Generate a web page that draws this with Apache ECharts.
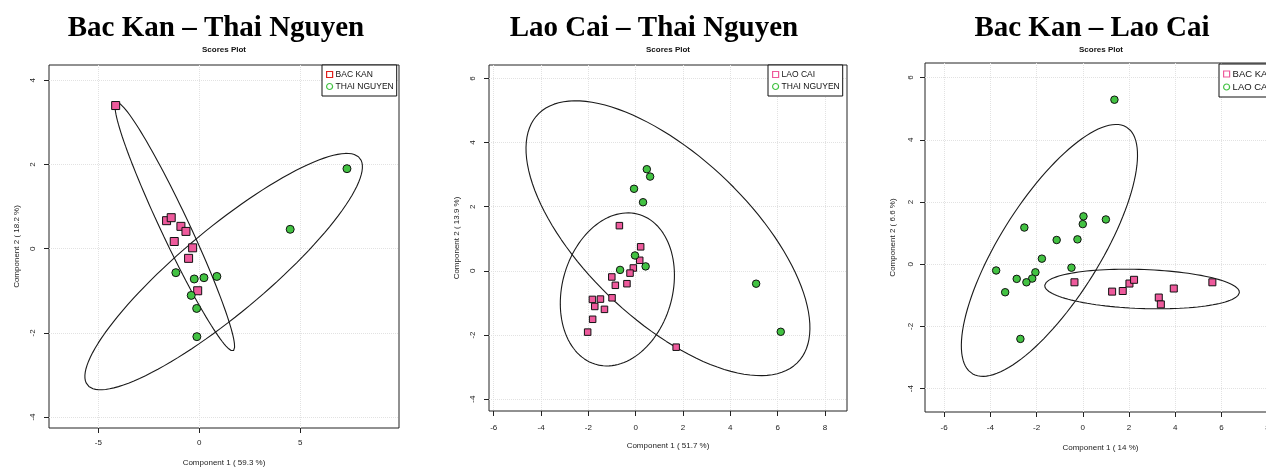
<!DOCTYPE html>
<html><head><meta charset="utf-8">
<script src="https://cdn.jsdelivr.net/npm/echarts@6/dist/echarts.min.js"></script>
<style>html,body{margin:0;padding:0;background:#fff}#c{width:1266px;height:467px}</style>
</head><body><div id="c"></div>
<script>
// ---------- data ----------
// Panel 1: Bac Kan – Thai Nguyen
const p1BacKanX = [-4.14, -1.62, -1.39, -0.91, -0.66, -1.24, -0.33, -0.53, -0.08];
const p1BacKanY = [3.40, 0.665, 0.736, 0.53, 0.41, 0.17, 0.02, -0.23, -1.00];
const p1ThaiX = [7.31, 4.50, -1.16, -0.25, 0.23, 0.87, -0.40, -0.13, -0.12];
const p1ThaiY = [1.90, 0.46, -0.57, -0.72, -0.69, -0.66, -1.11, -1.42, -2.09];
// Panel 2: Lao Cai – Thai Nguyen
const p2LaoCaiX = [-0.69, 0.21, 0.17, -0.10, -0.24, -0.37, -1.01, -0.86, -1.00, -1.49, -1.83, -1.73, -1.32, -1.82, -2.03, 1.71];
const p2LaoCaiY = [1.41, 0.75, 0.33, 0.09, -0.07, -0.40, -0.19, -0.45, -0.84, -0.88, -0.89, -1.11, -1.20, -1.51, -1.91, -2.38];
const p2ThaiX = [0.47, 0.61, -0.07, 0.31, -0.03, -0.66, 0.42, 5.09, 6.13];
const p2ThaiY = [3.17, 2.94, 2.56, 2.14, 0.48, 0.03, 0.14, -0.40, -1.90];
// Panel 3: Bac Kan – Lao Cai
const p3BacKanX = [-0.36, 1.27, 1.73, 2.02, 2.22, 3.29, 3.38, 3.94, 5.61];
const p3BacKanY = [-0.58, -0.88, -0.86, -0.62, -0.50, -1.07, -1.29, -0.78, -0.58];
const p3LaoCaiX = [1.37, 0.03, 0.00, 1.00, -2.53, -1.13, -0.23, -1.77, -0.49, -3.75, -2.05, -2.86, -2.19, -2.44, -3.36, -2.70];
const p3LaoCaiY = [5.29, 1.54, 1.29, 1.44, 1.18, 0.78, 0.80, 0.18, -0.11, -0.20, -0.26, -0.47, -0.46, -0.58, -0.90, -2.40];

const titles = ['Bac Kan – Thai Nguyen', 'Lao Cai – Thai Nguyen', 'Bac Kan – Lao Cai'];
const subTitle = 'Scores Plot';
const xNames = ['Component 1 ( 59.3 %)', 'Component 1 ( 51.7 %)', 'Component 1 ( 14 %)'];
const yNames = ['Component 2 ( 18.2 %)', 'Component 2 ( 13.9 %)', 'Component 2 ( 6.6 %)'];
const p1XTicks = [-5, 0, 5];
const p1YTicks = [-4, -2, 0, 2, 4];
const p2XTicks = [-6, -4, -2, 0, 2, 4, 6, 8];
const p2YTicks = [-4, -2, 0, 2, 4, 6];
const p3XTicks = [-6, -4, -2, 0, 2, 4, 6, 8];
const p3YTicks = [-4, -2, 0, 2, 4, 6];
const ellipseLevel = 0.95;

// ---------- helpers ----------
const PINK = '#EE5A9C', GREEN = '#42C242', RED = '#E0201C';
const SANS = '"Liberation Sans", Arial, sans-serif';
function zip(xs, ys) { return xs.map((x, i) => [x, ys[i]]); }
// 95% confidence ellipse (as in the R "ellipse" package) computed from the points
function confEllipse(xs, ys, level) {
  const n = xs.length;
  const mx = xs.reduce((a, b) => a + b, 0) / n;
  const my = ys.reduce((a, b) => a + b, 0) / n;
  let sxx = 0, syy = 0, sxy = 0;
  for (let i = 0; i < n; i++) {
    sxx += (xs[i] - mx) ** 2; syy += (ys[i] - my) ** 2; sxy += (xs[i] - mx) * (ys[i] - my);
  }
  sxx /= n - 1; syy /= n - 1; sxy /= n - 1;
  const sx = Math.sqrt(sxx), sy = Math.sqrt(syy);
  const r = sxy / (sx * sy), d = Math.acos(r);
  const t = Math.sqrt(-2 * Math.log(1 - level));
  const pts = [];
  const N = 120;
  for (let k = 0; k <= N; k++) {
    const a = 2 * Math.PI * k / N;
    pts.push([mx + t * sx * Math.cos(a + d / 2), my + t * sy * Math.cos(a - d / 2)]);
  }
  return pts;
}

const grids = [
  { left: 49, top: 65, width: 350, height: 363 },
  { left: 489, top: 65, width: 358, height: 346 },
  { left: 925, top: 63, width: 380, height: 349 }
];
const xRanges = [[-7.44, 9.886], [-6.20, 8.93], [-6.83, 9.62]];
const yRanges = [[-4.26, 4.363], [-4.37, 6.42], [-4.75, 6.47]];
const xTicks = [p1XTicks, p2XTicks, p3XTicks];
const yTicks = [p1YTicks, p2YTicks, p3YTicks];
const titleCenters = [216, 654, 1092];
const subCenters = [224, 668, 1101];

const xAxes = [], yAxes = [];
for (let i = 0; i < 3; i++) {
  xAxes.push({
    type: 'value', gridIndex: i, min: xRanges[i][0], max: xRanges[i][1], position: 'bottom',
    name: xNames[i], nameLocation: 'middle', nameGap: [31, 31, 31.5][i],
    nameTextStyle: { fontSize: 8, color: '#222', fontFamily: SANS, padding: [0, [0, 0, 29][i], 0, 0] },
    axisLine: { show: false, onZero: false },
    axisTick: { show: true, inside: false, length: 5, customValues: xTicks[i], lineStyle: { color: '#222' } },
    axisLabel: { customValues: xTicks[i], fontSize: 8, margin: [11, 13, 12][i], color: '#222', fontFamily: SANS },
    splitLine: { show: true, lineStyle: { color: '#e2e2e2', type: 'dotted', width: 1 } }
  });
  yAxes.push({
    type: 'value', gridIndex: i, min: yRanges[i][0], max: yRanges[i][1], position: 'left',
    name: yNames[i], nameLocation: 'middle', nameGap: 28, nameRotate: 90,
    nameTextStyle: { fontSize: 8, color: '#222', fontFamily: SANS },
    axisLine: { show: false, onZero: false },
    axisTick: { show: true, inside: false, length: 5, customValues: yTicks[i], lineStyle: { color: '#222' } },
    axisLabel: { customValues: yTicks[i], fontSize: 8, margin: [12, 12, 10][i], rotate: 90, color: '#222', fontFamily: SANS },
    splitLine: { show: true, lineStyle: { color: '#e2e2e2', type: 'dotted', width: 1 } }
  });
}

function scatter(name, gi, xs, ys, symbol, color, size) {
  return {
    type: 'scatter', name, xAxisIndex: gi, yAxisIndex: gi, data: zip(xs, ys),
    symbol, symbolSize: size, z: 4, silent: true,
    itemStyle: { color, borderColor: '#111', borderWidth: 1, opacity: 1 }
  };
}
function ell(gi, xs, ys) {
  return {
    type: 'line', xAxisIndex: gi, yAxisIndex: gi, data: confEllipse(xs, ys, ellipseLevel),
    showSymbol: false, symbol: 'none', smooth: false, silent: true, z: 2, clip: false,
    lineStyle: { color: '#1a1a1a', width: 1.1 }
  };
}

const series = [
  ell(0, p1BacKanX, p1BacKanY), ell(0, p1ThaiX, p1ThaiY),
  scatter('BAC KAN', 0, p1BacKanX, p1BacKanY, 'rect', PINK, 8),
  scatter('THAI NGUYEN', 0, p1ThaiX, p1ThaiY, 'circle', GREEN, 8),
  ell(1, p2LaoCaiX, p2LaoCaiY), ell(1, p2ThaiX, p2ThaiY),
  scatter('LAO CAI', 1, p2LaoCaiX, p2LaoCaiY, 'rect', PINK, 6.5),
  scatter('THAI NGUYEN', 1, p2ThaiX, p2ThaiY, 'circle', GREEN, 7.5),
  ell(2, p3BacKanX, p3BacKanY), ell(2, p3LaoCaiX, p3LaoCaiY),
  scatter('BAC KAN', 2, p3BacKanX, p3BacKanY, 'rect', PINK, 7),
  scatter('LAO CAI', 2, p3LaoCaiX, p3LaoCaiY, 'circle', GREEN, 7.5)
];

function legendItem(name, icon, color) {
  return { name, icon, itemStyle: { color: '#fff', borderColor: color, borderWidth: 1.2 } };
}
const legendBase = {
  orient: 'vertical', selectedMode: false, itemWidth: 6, itemHeight: 6, itemGap: 3,
  padding: [5, 3, 5, 4], borderColor: '#111', borderWidth: 1, backgroundColor: '#fff',
  textStyle: { fontSize: 8.5, color: '#111', fontFamily: SANS, padding: [0, 0, 0, -2] }
};
const legends = [
  Object.assign({}, legendBase, { left: 322, top: 65, data: [legendItem('BAC KAN', 'rect', RED), legendItem('THAI NGUYEN', 'circle', GREEN)] }),
  Object.assign({}, legendBase, { left: 768, top: 65, data: [legendItem('LAO CAI', 'rect', PINK), legendItem('THAI NGUYEN', 'circle', GREEN)] }),
  Object.assign({}, legendBase, { left: 1219, top: 64, textStyle: Object.assign({}, legendBase.textStyle, { fontSize: 9.5 }),
    data: [legendItem('BAC KAN', 'rect', PINK), legendItem('LAO CAI', 'circle', GREEN)] })
];

const title = [];
for (let i = 0; i < 3; i++) {
  title.push({ text: titles[i], left: titleCenters[i], top: 14, textAlign: 'center', padding: 0,
    textStyle: { fontFamily: '"Liberation Serif", "Times New Roman", serif', fontWeight: 'bold', fontSize: 29, color: '#000' } });
  title.push({ text: subTitle, left: subCenters[i], top: 46, textAlign: 'center', padding: 0,
    textStyle: { fontFamily: SANS, fontWeight: 'bold', fontSize: 8, color: '#111' } });
}

const chart = echarts.init(document.getElementById('c'), null, { renderer: 'canvas' });
chart.setOption({
  animation: false,
  backgroundColor: '#fff',
  title,
  legend: legends,
  grid: grids.map(g => Object.assign({ show: true, borderColor: '#222', borderWidth: 1, backgroundColor: 'transparent', containLabel: false, outerBoundsMode: 'none' }, g)),
  xAxis: xAxes,
  yAxis: yAxes,
  series
});
</script></body></html>
